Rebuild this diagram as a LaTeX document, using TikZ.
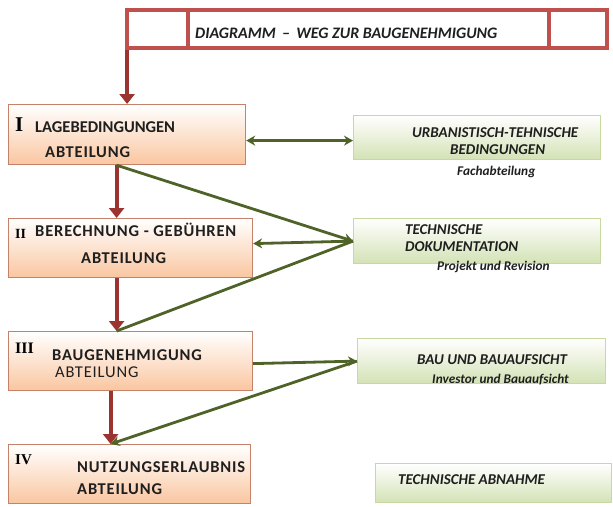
\documentclass[tikz,border=0pt]{standalone}
\usepackage{fontspec}
\setmainfont{Carlito}
\newfontfamily\numfont{Liberation Serif}
\usetikzlibrary{arrows.meta}

\definecolor{titlered}{HTML}{C0504D}
\definecolor{arrowred}{HTML}{9B3431}
\definecolor{boxedge}{HTML}{C4826A}
\definecolor{peach}{HTML}{FAC6A0}
\definecolor{leaf}{HTML}{D3E2B5}
\definecolor{leafedge}{HTML}{C6D9A0}
\definecolor{olive}{HTML}{4F6228}

\tikzset{
  kopf/.style={draw=titlered, line width=4pt, fill=white, anchor=north west, inner sep=0pt},
  amt/.style={draw=boxedge, line width=1.2pt, top color=white, bottom color=peach, anchor=north west, inner sep=0pt},
  ziel/.style={draw=leafedge, line width=1.2pt, top color=white, bottom color=leaf, anchor=north west, inner sep=0pt},
  rotpfeil/.style={draw=arrowred, line width=4pt, -{Triangle[width=15pt,length=10pt]}},
  gruen/.style={draw=olive, line width=2.8pt},
  gpfeil/.style={gruen, -{Stealth[width=10pt,length=9pt]}},
  txt/.style={font=\fontsize{16.5}{16.5}\selectfont\bfseries, anchor=west, inner sep=0pt, text=black!88},
  weit/.style={txt, font=\fontsize{16.5}{16.5}\selectfont\bfseries\addfontfeature{LetterSpace=5}},
  ztxt/.style={font=\fontsize{15}{15}\selectfont\bfseries\itshape, anchor=west, inner sep=0pt, text=black!88},
  klein/.style={ztxt, font=\fontsize{13.3}{13.3}\selectfont\bfseries\itshape},
  num/.style={font=\numfont\bfseries, anchor=west, inner sep=0pt}
}

\begin{document}
\begin{tikzpicture}[x=1pt, y=-1pt]

    \useasboundingbox (0,0) rectangle (613,506);

    % Kopfzeile
    \node (kopfa) [kopf, minimum width=61pt, minimum height=38pt] at (125,8) {};
    \node (kopfb) [kopf, minimum width=361pt, minimum height=38pt] at (186,8) {};
    \node (kopfc) [kopf, minimum width=58pt, minimum height=38pt] at (547,8) {};
    \node (titel) [font=\fontsize{16}{16}\selectfont\bfseries\itshape, anchor=west, inner sep=0pt, text=black!88]
        at (195,33) {DIAGRAMM \,--\, WEG ZUR BAUGENEHMIGUNG};

    % Abteilungen
    \node (lage)    [amt, minimum width=237pt, minimum height=60pt] at (8,104) {};
    \node (gebuehr) [amt, minimum width=244pt, minimum height=59pt] at (8,218) {};
    \node (genehm)  [amt, minimum width=244pt, minimum height=59pt] at (8,331) {};
    \node (nutzung) [amt, minimum width=242pt, minimum height=59pt] at (8,444) {};

    \node (n1) [num, font=\numfont\bfseries\fontsize{21}{21}\selectfont] at (15,125) {I};
    \node (t1) [txt] at (35,127) {LAGEBEDINGUNGEN};
    \node (a1) [weit] at (45,152) {ABTEILUNG};

    \node (n2) [num, font=\numfont\bfseries\fontsize{14}{14}\selectfont] at (15,234) {II};
    \node (t2) [weit] at (35,230) {BERECHNUNG - GEBÜHREN};
    \node (a2) [weit] at (81,258) {ABTEILUNG};

    \node (n3) [num, font=\numfont\bfseries\fontsize{16}{16}\selectfont] at (15,348) {III};
    \node (t3) [weit] at (52,355) {BAUGENEHMIGUNG};
    \node (a3) [txt, font=\fontsize{16.5}{16.5}\selectfont\addfontfeature{LetterSpace=5}] at (55,372) {ABTEILUNG};

    \node (n4) [num, font=\numfont\bfseries\fontsize{15}{15}\selectfont] at (15,460) {IV};
    \node (t4) [weit] at (77,467) {NUTZUNGSERLAUBNIS};
    \node (a4) [weit] at (77,489) {ABTEILUNG};

    % Beteiligte
    \node (urban)   [ziel, minimum width=247pt, minimum height=44pt] at (353,115) {};
    \node (tdok)    [ziel, minimum width=247pt, minimum height=45pt] at (353,218) {};
    \node (bau)     [ziel, minimum width=248pt, minimum height=45pt] at (357,338) {};
    \node (abnahme) [ziel, minimum width=236pt, minimum height=39pt] at (375,463) {};

    \node (u1) [ztxt] at (412,133) {URBANISTISCH-TEHNISCHE};
    \node (u2) [ztxt] at (450,150) {BEDINGUNGEN};
    \node (u3) [klein] at (457,172) {Fachabteilung};

    \node (d1) [ztxt] at (405,230) {TECHNISCHE};
    \node (d2) [ztxt] at (405,247) {DOKUMENTATION};
    \node (d3) [klein] at (437,267) {Projekt und Revision};

    \node (b1) [ztxt] at (417,360) {BAU UND BAUAUFSICHT};
    \node (b2) [klein] at (432,380) {Investor und Bauaufsicht};

    \node (e1) [ztxt] at (398,480) {TECHNISCHE ABNAHME};

    % Weg (rot)
    \draw [rotpfeil] (lage.north |- kopfa.south) -- (lage.north);
    \draw [rotpfeil] ([xshift=-10.5pt]lage.south) -- ([xshift=-14pt]gebuehr.north);
    \draw [rotpfeil] ([xshift=-14pt]gebuehr.south) -- ([xshift=-14pt]genehm.north);
    \draw [rotpfeil] ([xshift=-20pt]genehm.south) -- ([xshift=-19pt]nutzung.north);

    % Verbindungen (gruen)
    \draw [gruen, {Stealth[width=10pt,length=9pt]}-{Stealth[width=10pt,length=9pt]}]
        ([yshift=-6pt]lage.east) -- ([yshift=-3pt]urban.west);
    \draw [gpfeil] ([xshift=-10.5pt]lage.south) -- (tdok.west);
    \draw [gpfeil] (tdok.west) -- ([yshift=4.5pt]gebuehr.east);
    \draw [gruen]  (tdok.west) -- ([xshift=-14pt]genehm.north);
    \draw [gpfeil] ([yshift=-2.5pt]genehm.east) -- (bau.west);
    \draw [gpfeil] (bau.west) -- ([xshift=-19pt]nutzung.north);

\end{tikzpicture}
\end{document}
